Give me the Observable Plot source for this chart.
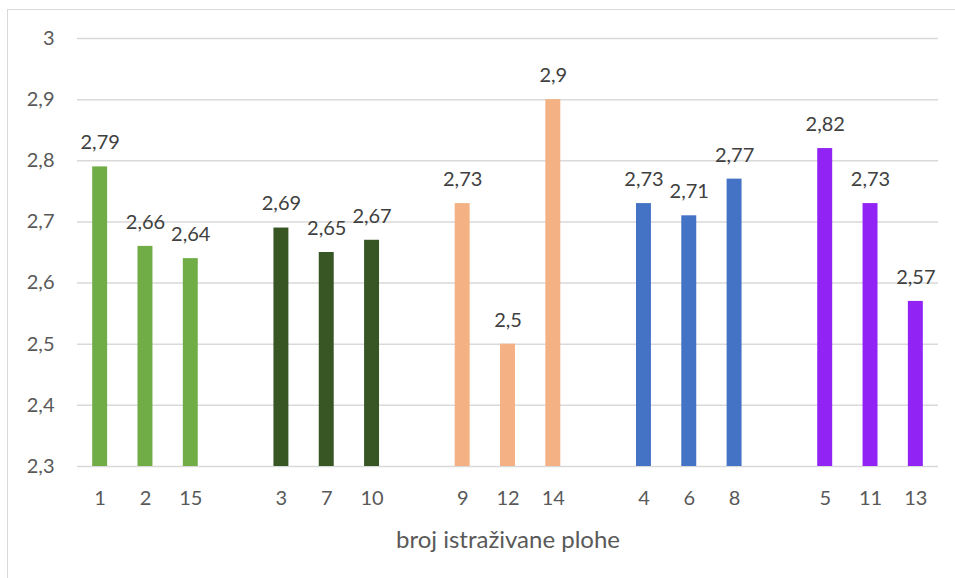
<!DOCTYPE html>
<html><head><meta charset="utf-8">
<script src="https://cdn.jsdelivr.net/npm/d3@7"></script>
<script src="https://cdn.jsdelivr.net/npm/@observablehq/plot@0.6"></script>
<style>
body{margin:0;background:#fff;}
#chart{position:absolute;left:0;top:0;}
#frame{position:absolute;left:7px;top:9px;right:-5px;bottom:-5px;border-left:1.5px solid #d9d9d9;border-top:1.5px solid #d9d9d9;pointer-events:none;}
</style>
</head><body><div id="chart"></div><div id="frame"></div>
<script>
const plots = ["1","2","15","3","7","10","9","12","14","4","6","8","5","11","13"];
const values = [2.79,2.66,2.64,2.69,2.65,2.67,2.73,2.5,2.9,2.73,2.71,2.77,2.82,2.73,2.57];
const groups = ["A","A","A","B","B","B","C","C","C","D","D","D","E","E","E"];
const groupNames = ["A","B","C","D","E"];
const groupColors = ["#70AD47","#375623","#F4B183","#4472C4","#9123F5"];
const yTicks = [2.3,2.4,2.5,2.6,2.7,2.8,2.9,3];
const yDomain = [2.3,3];
const xTitle = "broj istraživane plohe";

const data = plots.map((p,i)=>({plot:p, value:values[i], group:groups[i]}));
const xDomain = [];
plots.forEach((p,i)=>{ xDomain.push(p); if (i%3===2 && i<plots.length-1) xDomain.push("gap"+i); });
const comma = d => String(d).replace(".", ",");
const font = "Lato, 'Open Sans', sans-serif";

const chart = Plot.plot({
  width: 955, height: 578,
  marginLeft: 77, marginRight: 17, marginTop: 38, marginBottom: 112,
  style: {fontFamily: font, background: "transparent"},
  x: {domain: xDomain, paddingInner: 0.67, paddingOuter: 0.335, round: false},
  y: {domain: yDomain},
  color: {domain: groupNames, range: groupColors},
  marks: [
    Plot.ruleY(yTicks, {stroke: "#d9d9d9", strokeWidth: 1.5}),
    Plot.barY(data, {x: "plot", y1: () => yDomain[0], y2: "value", fill: "group"}),
    Plot.text(data, {x: "plot", y: "value", text: d => comma(d.value), dy: -24, lineAnchor: "middle", fontSize: 20, fill: "#404040"}),
    Plot.axisY({ticks: yTicks, tickSize: 0, tickPadding: 23, tickFormat: comma, fontSize: 20, fill: "#595959", label: null}),
    Plot.axisX({tickSize: 0, tickPadding: 24, tickFormat: d => d.startsWith("gap") ? "" : d, fontSize: 20, fill: "#595959", label: null}),
    Plot.text([xTitle], {frameAnchor: "bottom", dy: 74, lineAnchor: "middle", fontSize: 24, fill: "#595959"})
  ]
});
document.getElementById("chart").appendChild(chart);
</script>
</body></html>
